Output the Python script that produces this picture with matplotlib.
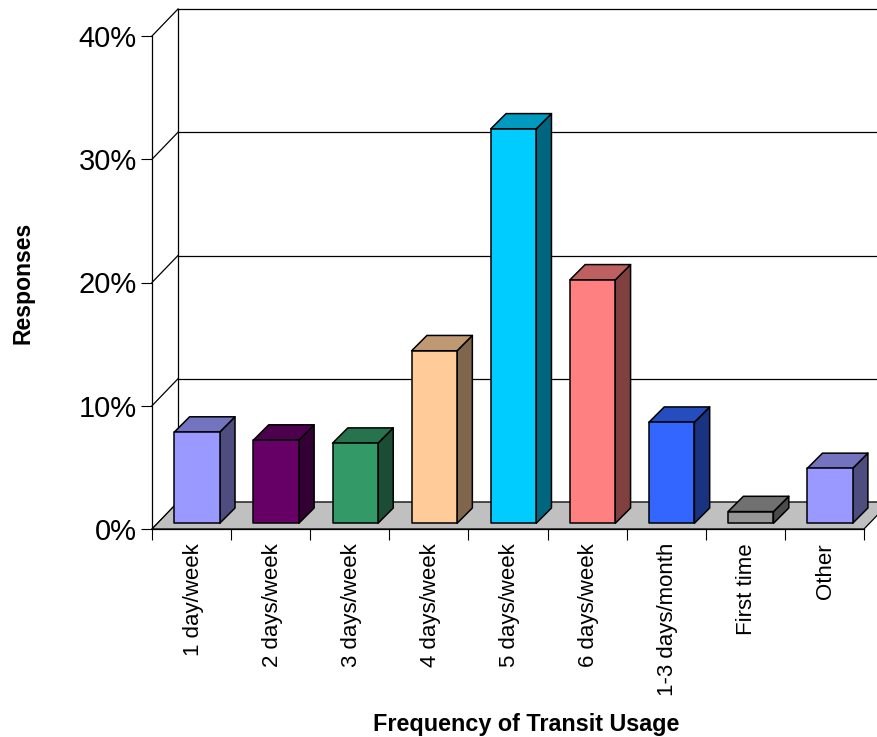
import matplotlib
matplotlib.use("Agg")
import matplotlib.pyplot as plt
from matplotlib.patches import Polygon
from matplotlib.colors import to_rgb
from matplotlib.transforms import ScaledTranslation

plt.rcParams['font.family'] = ['Liberation Sans', 'DejaVu Sans']

categories = ["1 day/week", "2 days/week", "3 days/week", "4 days/week", "5 days/week",
              "6 days/week", "1-3 days/month", "First time", "Other"]
responses = [7.4, 6.75, 6.5, 14.0, 32.0, 19.75, 8.2, 0.95, 4.45]
bar_colors = ["#9999FF", "#660066", "#339966", "#FFCC99", "#00CCFF",
              "#FF8080", "#3366FF", "#969696", "#9999FF"]
y_ticks = [0, 10, 20, 30, 40]

W, H = 878, 737
fig = plt.figure(figsize=(W / 100, H / 100), dpi=100)
left, right, top, bottom = 152, 864, 36, 529
ax = fig.add_axes([left / W, 1 - bottom / H, (right - left) / W, (bottom - top) / H])
ax.set_xlim(0, len(categories))
ax.set_ylim(0, 40)
ax.patch.set_visible(False)

# Oblique projection, all in data units: one category is 79.1 px, one percent 12.325 px
WALL_DX, WALL_DY = 26.0 / 79.1, 27 / 12.325
BAR_SHIFT_X, BAR_SHIFT_Y = 5.6 / 79.1, 5.7 / 12.325
BAR_DX, BAR_DY = 15.3 / 79.1, 15.3 / 12.325
BAR_MARGIN, BAR_WIDTH = 16.7 / 79.1, 45.4 / 79.1
LW = 1.1


def shade(color, factor):
    return tuple(c * factor for c in to_rgb(color))


def face(points, color, z, lw=LW):
    ax.add_patch(Polygon(points, closed=True, facecolor=color, edgecolor="black",
                         linewidth=lw, zorder=z, clip_on=False, joinstyle="round"))


n = len(categories)

# Floor
face([(0, 0), (WALL_DX, WALL_DY), (n + WALL_DX, WALL_DY), (n, 0)], "#C0C0C0", 1, 0.9)

# Back wall gridlines and their diagonals on the side wall
for t in y_ticks:
    ax.plot([WALL_DX, n + WALL_DX], [t + WALL_DY] * 2, color="black", lw=0.9,
            zorder=0.5, clip_on=False)
    ax.plot([0, WALL_DX], [t, t + WALL_DY], color="black", lw=0.9, zorder=0.5, clip_on=False)
ax.plot([WALL_DX, WALL_DX], [WALL_DY, 40 + WALL_DY], color="black", lw=0.9,
        zorder=0.5, clip_on=False)

# Bars
for i, (value, color) in enumerate(zip(responses, bar_colors)):
    x0 = i + BAR_MARGIN + BAR_SHIFT_X
    x1 = x0 + BAR_WIDTH
    y0 = BAR_SHIFT_Y
    y1 = y0 + value
    z = 3 + i * 0.01
    face([(x1, y0), (x1 + BAR_DX, y0 + BAR_DY), (x1 + BAR_DX, y1 + BAR_DY), (x1, y1)],
         shade(color, 0.5), z)
    face([(x0, y1), (x0 + BAR_DX, y1 + BAR_DY), (x1 + BAR_DX, y1 + BAR_DY), (x1, y1)],
         shade(color, 0.75), z)
    face([(x0, y0), (x1, y0), (x1, y1), (x0, y1)], color, z)

# Axes
for side in ("top", "right"):
    ax.spines[side].set_visible(False)
for side in ("left", "bottom"):
    ax.spines[side].set_linewidth(0.9)
    ax.spines[side].set_zorder(2)

ax.set_yticks(y_ticks)
ax.set_yticklabels([f"{t}%" for t in y_ticks], fontsize=21)
ax.tick_params(axis="y", length=8, width=0.8, pad=3)

ax.set_xticks(range(n + 1))
ax.set_xticklabels([])
ax.tick_params(axis="x", which="major", length=8, width=0.8)
ax.set_xticks([i + 0.5 for i in range(n)], minor=True)
ax.set_xticklabels(categories, minor=True, rotation=90, fontsize=16, ha="center", va="top")
ax.tick_params(axis="x", which="minor", length=0, pad=10)

# Nudge the rotated category labels slightly to the right
nudge = ScaledTranslation(1.5 / 100, 0, fig.dpi_scale_trans)
for label in ax.get_xticklabels(minor=True):
    label.set_transform(label.get_transform() + nudge)

ax.set_xlabel("Frequency of Transit Usage", fontsize=16.8, fontweight="bold", va="center")
ax.xaxis.set_label_coords((526.5 - left) / (right - left), (bottom - 725) / (bottom - top))
ax.set_ylabel("Responses", fontsize=16.6, fontweight="bold", va="center")
ax.yaxis.set_label_coords((23 - left) / (right - left), 0.5)

fig.savefig("out.png", dpi=100, facecolor="white")
